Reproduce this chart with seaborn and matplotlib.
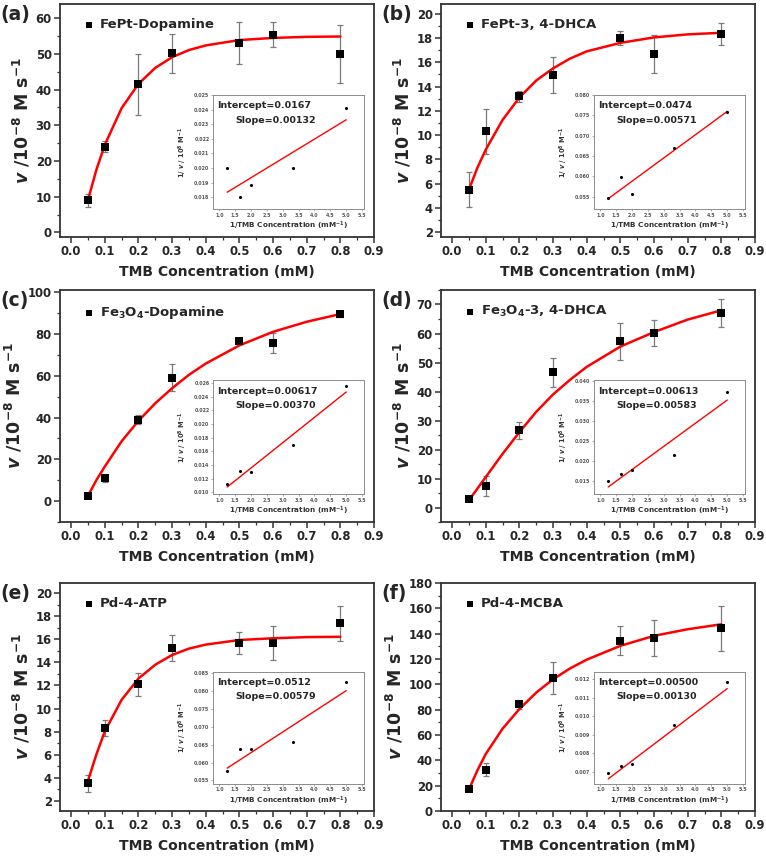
import numpy as np
import matplotlib
matplotlib.use('Agg')
import matplotlib.pyplot as plt
import seaborn as sns
from matplotlib.ticker import MultipleLocator, FormatStrFormatter

#%% data

conc = [0.05, 0.1, 0.2, 0.3, 0.5, 0.6, 0.8]
fit_x = [0.05, 0.075, 0.1, 0.15, 0.2, 0.25, 0.3, 0.35, 0.4, 0.5, 0.6, 0.7, 0.8]
inv_conc = [1.25, 1.667, 2.0, 3.333, 5.0]

names = ['FePt-Dopamine', 'FePt-3, 4-DHCA', 'Fe$_3$O$_4$-Dopamine',
         'Fe$_3$O$_4$-3, 4-DHCA', 'Pd-4-ATP', 'Pd-4-MCBA']
letters = ['(a)', '(b)', '(c)', '(d)', '(e)', '(f)']

rate_a = [9.0, 24.0, 41.5, 50.2, 53.1, 55.4, 50.0]
err_a = [1.8, 1.6, 8.5, 5.5, 6.0, 3.5, 8.2]
fit_a = [9.0, 17.5, 24.5, 34.8, 41.6, 46.1, 49.1, 51.1, 52.4, 53.9, 54.5, 54.8, 54.9]

rate_b = [5.5, 10.3, 13.2, 14.95, 18.0, 16.7, 18.3]
err_b = [1.45, 1.85, 0.45, 1.5, 0.6, 1.55, 0.9]
fit_b = [5.5, 7.3, 8.8, 11.25, 13.1, 14.5, 15.5, 16.3, 16.9, 17.6, 18.05, 18.3, 18.43]

rate_c = [2.3, 11.0, 39.0, 59.0, 76.7, 75.8, 89.5]
err_c = [1.0, 1.7, 2.0, 6.5, 1.2, 4.8, 1.5]
fit_c = [2.5, 10.0, 16.5, 28.6, 38.4, 46.8, 54.0, 60.4, 65.8, 74.5, 81.0, 85.8, 89.5]

rate_d = [3.0, 7.3, 26.6, 46.6, 57.3, 60.3, 67.1]
err_d = [0.5, 3.4, 2.9, 5.1, 6.4, 4.5, 4.7]
fit_d = [2.5, 6.5, 10.5, 18.5, 26.0, 33.0, 39.0, 44.0, 48.5, 55.5, 60.5, 64.8, 68.0]

rate_e = [3.5, 8.34, 12.1, 15.25, 15.7, 15.7, 17.4]
err_e = [0.75, 0.7, 1.0, 1.1, 0.95, 1.45, 1.5]
fit_e = [3.7, 6.0, 8.0, 10.75, 12.6, 13.8, 14.65, 15.2, 15.55, 15.95, 16.1, 16.2, 16.23]

rate_f = [17.2, 32.6, 84.3, 105.1, 134.4, 136.7, 144.3]
err_f = [1.5, 5.0, 3.5, 12.5, 11.5, 14.3, 17.7]
fit_f = [17.0, 32.0, 45.0, 65.0, 80.5, 93.5, 104.0, 112.5, 119.5, 130.4, 138.3, 143.5, 147.4]

# Lineweaver-Burk insets, x = 1/[TMB] (0.8, 0.6, 0.5, 0.3, 0.2 mM)
inv_rate_a = [0.0200, 0.01805, 0.01885, 0.0200, 0.0241]
inv_rate_b = [0.0547, 0.0599, 0.0556, 0.0669, 0.0758]
inv_rate_c = [0.01117, 0.0132, 0.0130, 0.0170, 0.0256]
inv_rate_d = [0.0150, 0.0167, 0.0176, 0.0214, 0.0373]
inv_rate_e = [0.0576, 0.0637, 0.0637, 0.0657, 0.0825]
inv_rate_f = [0.00693, 0.00732, 0.00744, 0.00951, 0.01186]

intercepts = [0.0167, 0.0474, 0.00617, 0.00613, 0.0512, 0.00500]
slopes = [0.00132, 0.00571, 0.00370, 0.00583, 0.00579, 0.00130]
intercept_labels = ['0.0167', '0.0474', '0.00617', '0.00613', '0.0512', '0.00500']
slope_labels = ['0.00132', '0.00571', '0.00370', '0.00583', '0.00579', '0.00130']

rates = [rate_a, rate_b, rate_c, rate_d, rate_e, rate_f]
errs = [err_a, err_b, err_c, err_d, err_e, err_f]
fits = [fit_a, fit_b, fit_c, fit_d, fit_e, fit_f]
inv_rates = [inv_rate_a, inv_rate_b, inv_rate_c, inv_rate_d, inv_rate_e, inv_rate_f]

#%% axis settings per panel
main_ylims = [(-1.3, 64), (1.6, 20.8), (-10, 101), (-5, 75), (1.1, 20.9), (0, 180)]
main_steps = [(10, 5), (2, 1), (20, 10), (10, 5), (2, 1), (20, 10)]
inset_ylims = [(0.0172, 0.0250), (0.0520, 0.0800), (0.00975, 0.02635),
               (0.0116, 0.0402), (0.0541, 0.0854), (0.00637, 0.0124)]
inset_steps = [0.001, 0.005, 0.002, 0.005, 0.005, 0.001]

lefts = [0.0783, 0.5757]
rows = [(0.7241, 0.2712), (0.3923, 0.2701), (0.0559, 0.2654)]

sns.set_style('ticks')
plt.rcParams['font.family'] = ['DejaVu Sans']
plt.rcParams['font.weight'] = 'bold'
plt.rcParams['axes.labelweight'] = 'bold'
plt.rcParams['mathtext.fontset'] = 'custom'
plt.rcParams['mathtext.rm'] = 'DejaVu Sans:bold'
plt.rcParams['mathtext.bf'] = 'DejaVu Sans:bold'
plt.rcParams['mathtext.it'] = 'DejaVu Sans:italic:bold'
plt.rcParams['mathtext.default'] = 'bf'

spine_col = '#333333'


def style_axes(ax, lw, col):
    for s in ax.spines.values():
        s.set_linewidth(lw)
        s.set_color(col)


def draw_panel(fig, i):
    r, c = divmod(i, 2)
    bottom, height = rows[r]
    ax = fig.add_axes([lefts[c], bottom, 0.41, height])

    ax.errorbar(conc, rates[i], yerr=errs[i], fmt='none', ecolor='#7a7a7a',
                elinewidth=0.9, capsize=2.5, capthick=0.9, zorder=2)
    sns.lineplot(x=fit_x, y=fits[i], color='red', linewidth=1.8, ax=ax,
                 legend=False, zorder=3)
    sns.scatterplot(x=conc, y=rates[i], marker='s', s=28, color='black',
                    edgecolor='black', linewidth=0, ax=ax, zorder=4,
                    label=names[i])

    ax.set_xlim(-0.033, 0.9)
    ax.set_ylim(*main_ylims[i])
    ax.xaxis.set_major_locator(MultipleLocator(0.1))
    ax.xaxis.set_minor_locator(MultipleLocator(0.05))
    ax.xaxis.set_major_formatter(FormatStrFormatter('%.1f'))
    ax.yaxis.set_major_locator(MultipleLocator(main_steps[i][0]))
    ax.yaxis.set_minor_locator(MultipleLocator(main_steps[i][1]))
    ax.tick_params(which='major', length=4, width=1.1, labelsize=8.4,
                   color=spine_col, pad=2)
    ax.tick_params(which='minor', length=2.2, width=0.9, color=spine_col)
    style_axes(ax, 1.3, spine_col)

    ax.set_xlabel('TMB Concentration (mM)', fontsize=10, fontweight='bold',
                  labelpad=5)
    ax.set_ylabel(r'$\mathit{v}$ /10$^{-8}$ M s$^{-1}$', fontsize=12.5,
                  fontweight='bold', labelpad=2)
    ax.text(-0.19, 0.955, letters[i], transform=ax.transAxes, fontsize=13.5,
            fontweight='bold', ha='left', va='center')

    leg = ax.legend(loc='upper left', bbox_to_anchor=(0.03, 0.985), frameon=False,
                    handletextpad=0.1, handlelength=1.4, markerscale=0.75,
                    fontsize=9.5, borderaxespad=0.4)
    for t in leg.get_texts():
        t.set_fontweight('bold')

    # Lineweaver-Burk inset
    ins = ax.inset_axes([0.487, 0.12, 0.48, 0.49])
    line_x = np.array([inv_conc[0], inv_conc[-1]])
    line_y = intercepts[i] + slopes[i] * line_x
    sns.lineplot(x=line_x, y=line_y, color='red', linewidth=1.0, ax=ins,
                 legend=False)
    sns.scatterplot(x=inv_conc, y=inv_rates[i], s=5, color='black',
                    linewidth=0, ax=ins, zorder=4)
    ins.set_xlim(0.8, 5.55)
    ins.set_ylim(*inset_ylims[i])
    ins.xaxis.set_major_locator(MultipleLocator(0.5))
    ins.xaxis.set_major_formatter(FormatStrFormatter('%.1f'))
    ins.yaxis.set_major_locator(MultipleLocator(inset_steps[i]))
    ins.yaxis.set_major_formatter(FormatStrFormatter('%.3f'))
    ins.tick_params(length=1.5, width=0.5, labelsize=3.4, pad=1.0,
                    color='#888888', labelcolor='#555555')
    style_axes(ins, 0.7, '#8c8c8c')
    ins.set_xlabel('1/TMB Concentration (mM$^{-1}$)', fontsize=5.2,
                   color='#333333', labelpad=1.8)
    ins.set_ylabel('1/ $\\mathit{v}$ / 10$^{8}$ M$^{-1}$', fontsize=4.8,
                   color='#333333', labelpad=3.5)
    ins.text(0.03, 0.905, 'Intercept=' + intercept_labels[i],
             transform=ins.transAxes, fontsize=6.8, fontweight='bold',
             va='center')
    ins.text(0.15, 0.78, 'Slope=' + slope_labels[i],
             transform=ins.transAxes, fontsize=6.8, fontweight='bold',
             va='center')


def main():
    fig = plt.figure(figsize=(7.66, 8.59), dpi=100)
    for i in range(6):
        draw_panel(fig, i)
    fig.savefig('out.png', dpi=100, facecolor='white')


if __name__ == '__main__':
    main()
